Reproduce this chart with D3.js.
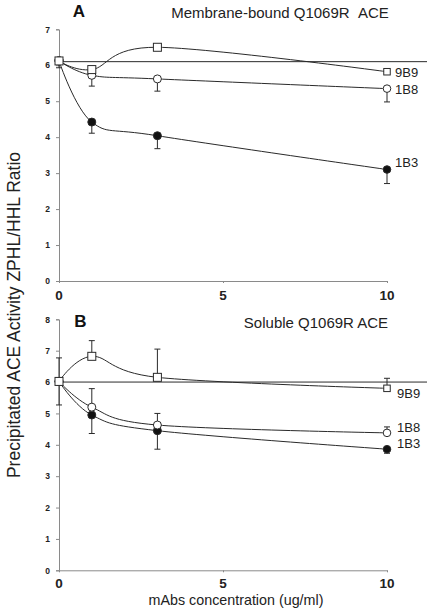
<!DOCTYPE html>
<html>
<head>
<meta charset="utf-8">
<script src="https://cdn.jsdelivr.net/npm/d3@7"></script>
<style>
  html, body { margin: 0; padding: 0; background: #fff; }
  svg { display: block; font-family: "Liberation Sans", Arial, sans-serif; }
</style>
</head>
<body>
<svg id="chart" width="430" height="609"></svg>
<script>
// ---------- data ----------
const concentrations = [0, 1, 3, 10];
const seriesNames = ["9B9", "1B8", "1B3"];
const xTicks = [0, 5, 10];

// Panel A: Membrane-bound Q1069R ACE
const panelATitle = "Membrane-bound Q1069R\u00a0\u00a0ACE";
const panelAYTicks = [0, 1, 2, 3, 4, 5, 6, 7];
const panelARef = 6.1;
const a9B9 = [6.12, 5.88, 6.50, 5.82];
const a9B9ErrUp = [0, 0, 0, 0];
const a9B9ErrDown = [0.19, 0, 0, 0];
const a1B8 = [6.12, 5.72, 5.62, 5.35];
const a1B8ErrUp = [0, 0, 0, 0];
const a1B8ErrDown = [0, 0.30, 0.34, 0.37];
const a1B3 = [6.12, 4.42, 4.04, 3.10];
const a1B3ErrUp = [0, 0, 0, 0];
const a1B3ErrDown = [0, 0.31, 0.36, 0.39];

// Panel B: Soluble Q1069R ACE
const panelBTitle = "Soluble Q1069R ACE";
const panelBYTicks = [0, 1, 2, 3, 4, 5, 6, 7, 8];
const panelBRef = 6.0;
const b9B9 = [6.02, 6.82, 6.15, 5.80];
const b9B9ErrUp = [0.75, 0.50, 0.90, 0.32];
const b9B9ErrDown = [0.75, 0, 0, 0];
const b1B8 = [6.02, 5.20, 4.63, 4.38];
const b1B8ErrUp = [0, 0.59, 0.37, 0.19];
const b1B8ErrDown = [0, 0, 0, 0];
const b1B3 = [6.02, 4.95, 4.45, 3.86];
const b1B3ErrUp = [0, 0, 0, 0];
const b1B3ErrDown = [0, 0.59, 0.59, 0.13];

const yAxisLabel = "Precipitated ACE Activity ZPHL/HHL Ratio";
const xAxisLabel = "mAbs concentration (ug/ml)";

// ---------- layout ----------
const svg = d3.select("#chart");
const markerType = { "9B9": "square", "1B8": "open", "1B3": "filled" };
const lineColor = "#2a2a2a";
const axisColor = "#8a8a8a";

const x = d3.scaleLinear().domain([0, 10]).range([59, 387]);

const panels = [
  {
    letter: "A", letterX: 79, letterY: 17,
    title: panelATitle, titleX: 280, titleY: 18,
    yDomain: [0, 7], yRange: [281, 29.3], yTicks: panelAYTicks,
    ref: panelARef, xTickY: 300,
    series: [
      { name: "9B9", v: a9B9, up: a9B9ErrUp, dn: a9B9ErrDown, lx: 395, ldy: 5 },
      { name: "1B8", v: a1B8, up: a1B8ErrUp, dn: a1B8ErrDown, lx: 395, ldy: 5 },
      { name: "1B3", v: a1B3, up: a1B3ErrUp, dn: a1B3ErrDown, lx: 395, ldy: -3 }
    ]
  },
  {
    letter: "B", letterX: 80.5, letterY: 327,
    title: panelBTitle, titleX: 316, titleY: 328,
    yDomain: [0, 8], yRange: [570.3, 319.3], yTicks: panelBYTicks,
    ref: panelBRef, xTickY: 588,
    series: [
      { name: "9B9", v: b9B9, up: b9B9ErrUp, dn: b9B9ErrDown, lx: 397, ldy: 10 },
      { name: "1B8", v: b1B8, up: b1B8ErrUp, dn: b1B8ErrDown, lx: 397, ldy: -1 },
      { name: "1B3", v: b1B3, up: b1B3ErrUp, dn: b1B3ErrDown, lx: 397, ldy: -1 }
    ]
  }
];

panels.forEach(p => {
  const y = d3.scaleLinear().domain(p.yDomain).range(p.yRange);
  const g = svg.append("g");

  // y axis
  const ya = g.append("g").attr("transform", `translate(${x(0)},0)`)
    .call(d3.axisLeft(y).tickValues(p.yTicks).tickSize(3).tickPadding(6).tickFormat(d3.format("d")));
  ya.select(".domain").attr("stroke", axisColor);
  ya.selectAll(".tick line").attr("stroke", axisColor);
  ya.selectAll("text").attr("font-size", 8.5).attr("font-weight", "bold").attr("fill", "#222")
    .attr("font-family", "Liberation Sans, Arial, sans-serif");

  // x axis
  const xa = g.append("g").attr("transform", `translate(0,${y(0)})`)
    .call(d3.axisBottom(x).tickValues(xTicks).tickSize(2).tickSizeOuter(0).tickFormat(d3.format("d")));
  xa.select(".domain").attr("stroke", axisColor);
  xa.selectAll(".tick line").attr("stroke", axisColor);
  xa.selectAll("text").remove();
  g.selectAll(".xtl").data(xTicks).enter().append("text")
    .attr("x", d => x(d)).attr("y", p.xTickY)
    .attr("text-anchor", "middle").attr("font-size", 13.5).attr("font-weight", "bold")
    .attr("fill", "#222").text(d => d);

  // reference line
  g.append("line").attr("x1", x(0)).attr("x2", 427)
    .attr("y1", y(p.ref)).attr("y2", y(p.ref))
    .attr("stroke", lineColor).attr("stroke-width", 1);

  // panel letter and title
  g.append("text").attr("x", p.letterX).attr("y", p.letterY).attr("text-anchor", "middle")
    .attr("font-size", 17).attr("font-weight", "bold").attr("fill", "#111").text(p.letter);
  g.append("text").attr("x", p.titleX).attr("y", p.titleY).attr("text-anchor", "middle")
    .attr("font-size", 15).attr("fill", "#222").text(p.title);

  const line = d3.line().x((d, i) => x(concentrations[i])).y(d => y(d))
    .curve(d3.curveCardinal.tension(0));

  p.series.forEach(s => {
    g.append("path").attr("d", line(s.v)).attr("fill", "none")
      .attr("stroke", lineColor).attr("stroke-width", 1);

    // error bars
    s.v.forEach((v, i) => {
      const cx = x(concentrations[i]);
      if (s.up[i] > 0) {
        g.append("line").attr("x1", cx).attr("x2", cx).attr("y1", y(v)).attr("y2", y(v + s.up[i]))
          .attr("stroke", lineColor);
        g.append("line").attr("x1", cx - 3).attr("x2", cx + 3).attr("y1", y(v + s.up[i])).attr("y2", y(v + s.up[i]))
          .attr("stroke", lineColor);
      }
      if (s.dn[i] > 0) {
        g.append("line").attr("x1", cx).attr("x2", cx).attr("y1", y(v)).attr("y2", y(v - s.dn[i]))
          .attr("stroke", lineColor);
        g.append("line").attr("x1", cx - 3).attr("x2", cx + 3).attr("y1", y(v - s.dn[i])).attr("y2", y(v - s.dn[i]))
          .attr("stroke", lineColor);
      }
    });
  });

  // markers (drawn after all lines)
  p.series.slice().reverse().forEach(s => {
    s.v.forEach((v, i) => {
      const cx = x(concentrations[i]), cy = y(v);
      const t = markerType[s.name];
      if (t === "square") {
        const sz = i === 3 ? 6.5 : 8;
        g.append("rect").attr("x", cx - sz / 2).attr("y", cy - sz / 2).attr("width", sz).attr("height", sz)
          .attr("fill", "#fff").attr("stroke", lineColor).attr("stroke-width", 1);
      } else {
        g.append("circle").attr("cx", cx).attr("cy", cy).attr("r", i === 3 ? 3.8 : 4)
          .attr("fill", t === "filled" ? "#111" : "#fff").attr("stroke", lineColor).attr("stroke-width", 1);
      }
    });
    // series label
    g.append("text").attr("x", s.lx).attr("y", y(s.v[3]) + s.ldy)
      .attr("font-size", 13).attr("fill", "#222").text(s.name);
  });
});

// shared axis labels
svg.append("text").attr("transform", "translate(20,315) rotate(-90)")
  .attr("text-anchor", "middle").attr("font-size", 17.5).attr("fill", "#222").text(yAxisLabel);
svg.append("text").attr("x", 236).attr("y", 605).attr("text-anchor", "middle")
  .attr("font-size", 14.3).attr("fill", "#222").text(xAxisLabel);
</script>
</body>
</html>
